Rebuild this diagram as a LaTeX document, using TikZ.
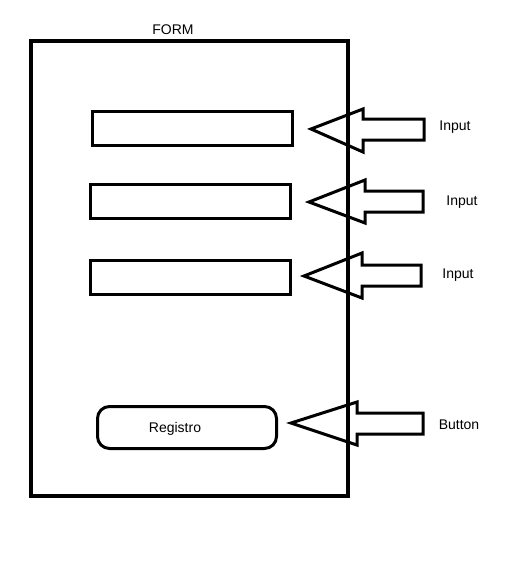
\documentclass[tikz,border=0pt]{standalone}
\usepackage{fontspec}
\setmainfont{Liberation Sans}
\tikzset{
  field/.style={draw,line width=3pt,minimum width=200pt,minimum height=34pt,inner sep=0pt},
  label/.style={font=\fontsize{14}{16}\selectfont,inner sep=0pt},
  blockarrow/.style={line width=3pt,line join=miter}
}
\begin{document}
\begin{tikzpicture}[x=1pt,y=-1pt]
    \useasboundingbox (0,0) rectangle (505,562);
    \draw[line width=4pt] (31,41) rectangle (348,496);
    \node[label] (form) at (173,30) {FORM};
    \node[field] (in1) at (192.5,128.5) {};
    \node[field] (in2) at (190.5,201.5) {};
    \node[field] (in3) at (190,277) {};
    \node[field,rounded corners=12pt,minimum width=179pt,minimum height=42pt] (btn) at (187,427.5) {};
    \node[label] (reg) at (175,429) {Registro};
    \draw[blockarrow] (311,129) -- (363,109) -- (363,119) -- (424,119) -- (424,140) -- (363,140) -- (363,152) -- cycle;
    \draw[blockarrow] (309,202) -- (365,180) -- (365,191) -- (423,191) -- (423,212) -- (365,212) -- (365,223) -- cycle;
    \draw[blockarrow] (304,276) -- (362,253) -- (362,265) -- (421,265) -- (421,286) -- (362,286) -- (362,298) -- cycle;
    \draw[blockarrow] (291,423) -- (357,402) -- (357,413) -- (423,413) -- (423,434) -- (357,434) -- (357,445) -- cycle;
    \node[label] (lbl1) at (455,127) {Input};
    \node[label] (lbl2) at (462,202) {Input};
    \node[label] (lbl3) at (458,275) {Input};
    \node[label] (lbl4) at (459,425) {Button};
\end{tikzpicture}
\end{document}
